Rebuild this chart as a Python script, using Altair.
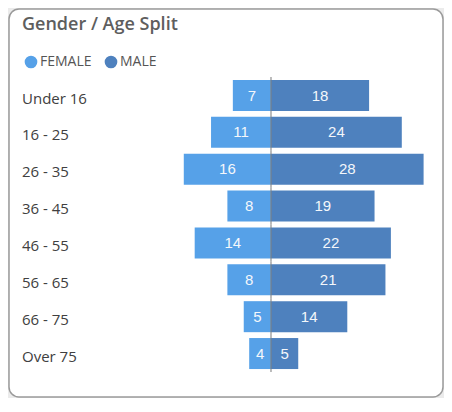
import altair as alt
import pandas as pd

title_text = "Gender / Age Split"
ages = ["Under 16", "16 - 25", "26 - 35", "36 - 45", "46 - 55", "56 - 65", "66 - 75", "Over 75"]
female = [7, 11, 16, 8, 14, 8, 5, 4]
male = [18, 24, 28, 19, 22, 21, 14, 5]
genders = ["FEMALE", "MALE"]
colors = ["#56A1E8", "#4E81BE"]

rows = []
for a, f, m in zip(ages, female, male):
    rows.append({"age": a, "gender": "FEMALE", "value": f, "signed": -f})
    rows.append({"age": a, "gender": "MALE", "value": m, "signed": m})
df = pd.DataFrame(rows)
df["mid"] = df["signed"] / 2
age_df = pd.DataFrame({"age": ages, "zero": [0] * len(ages)})
title_df = pd.DataFrame({"t": [title_text]})

FONT = "Open Sans"

xscale = alt.Scale(domain=[-48.07, 31.56], nice=False, zero=False)
yscale = alt.Scale(domain=ages, range=[68.07, 362.97], paddingInner=0.159, paddingOuter=0.0795)


def X(f):
    return alt.X(f, type="quantitative", scale=xscale, axis=None)


Y = alt.Y("age:N", sort=ages, scale=yscale, axis=None)

bars = alt.Chart(df).mark_bar().encode(
    x=X("signed"),
    y=Y,
    color=alt.Color(
        "gender:N",
        scale=alt.Scale(domain=genders, range=colors),
        legend=alt.Legend(
            title=None,
            orient="none",
            legendX=15,
            legendY=46,
            direction="horizontal",
            symbolType="circle",
            symbolSize=160,
            symbolStrokeWidth=0,
            symbolOpacity=1,
            labelFont=FONT,
            labelFontSize=14,
            labelColor="#555555",
            labelOffset=2,
            columnPadding=12,
            padding=0,
        ),
    ),
)

center = alt.Chart(age_df).mark_tick(color="#808080", thickness=1.5, size=36.86).encode(
    x=X("zero"),
    y=Y,
)

values = alt.Chart(df).mark_text(color="#F4F7FB", fontSize=15, font="Liberation Sans").encode(
    x=X("mid"),
    y=Y,
    text="value:Q",
)

cats = alt.Chart(age_df).mark_text(
    align="left", baseline="middle", dy=3, fontSize=15, font=FONT, color="#404040"
).encode(
    x=alt.value(13),
    y=Y,
    text="age:N",
)

title = alt.Chart(title_df).mark_text(
    align="left", baseline="middle", fontSize=18, fontWeight=600, font=FONT, color="#5e5e5e"
).encode(
    x=alt.value(13),
    y=alt.value(16),
    text="t:N",
)

chart = (
    alt.layer(bars, center, values, cats, title)
    .properties(
        width=434,
        height=388,
        autosize=alt.AutoSizeParams(type="none"),
        padding={"left": 1, "top": 1, "right": 1, "bottom": 1},
        background="#ebebeb",
    )
    .configure_view(fill="white", stroke="#9a9a9a", strokeWidth=1.5, cornerRadius=10)
)

chart.save("out.html", embed_options={"renderer": "svg", "actions": False})
